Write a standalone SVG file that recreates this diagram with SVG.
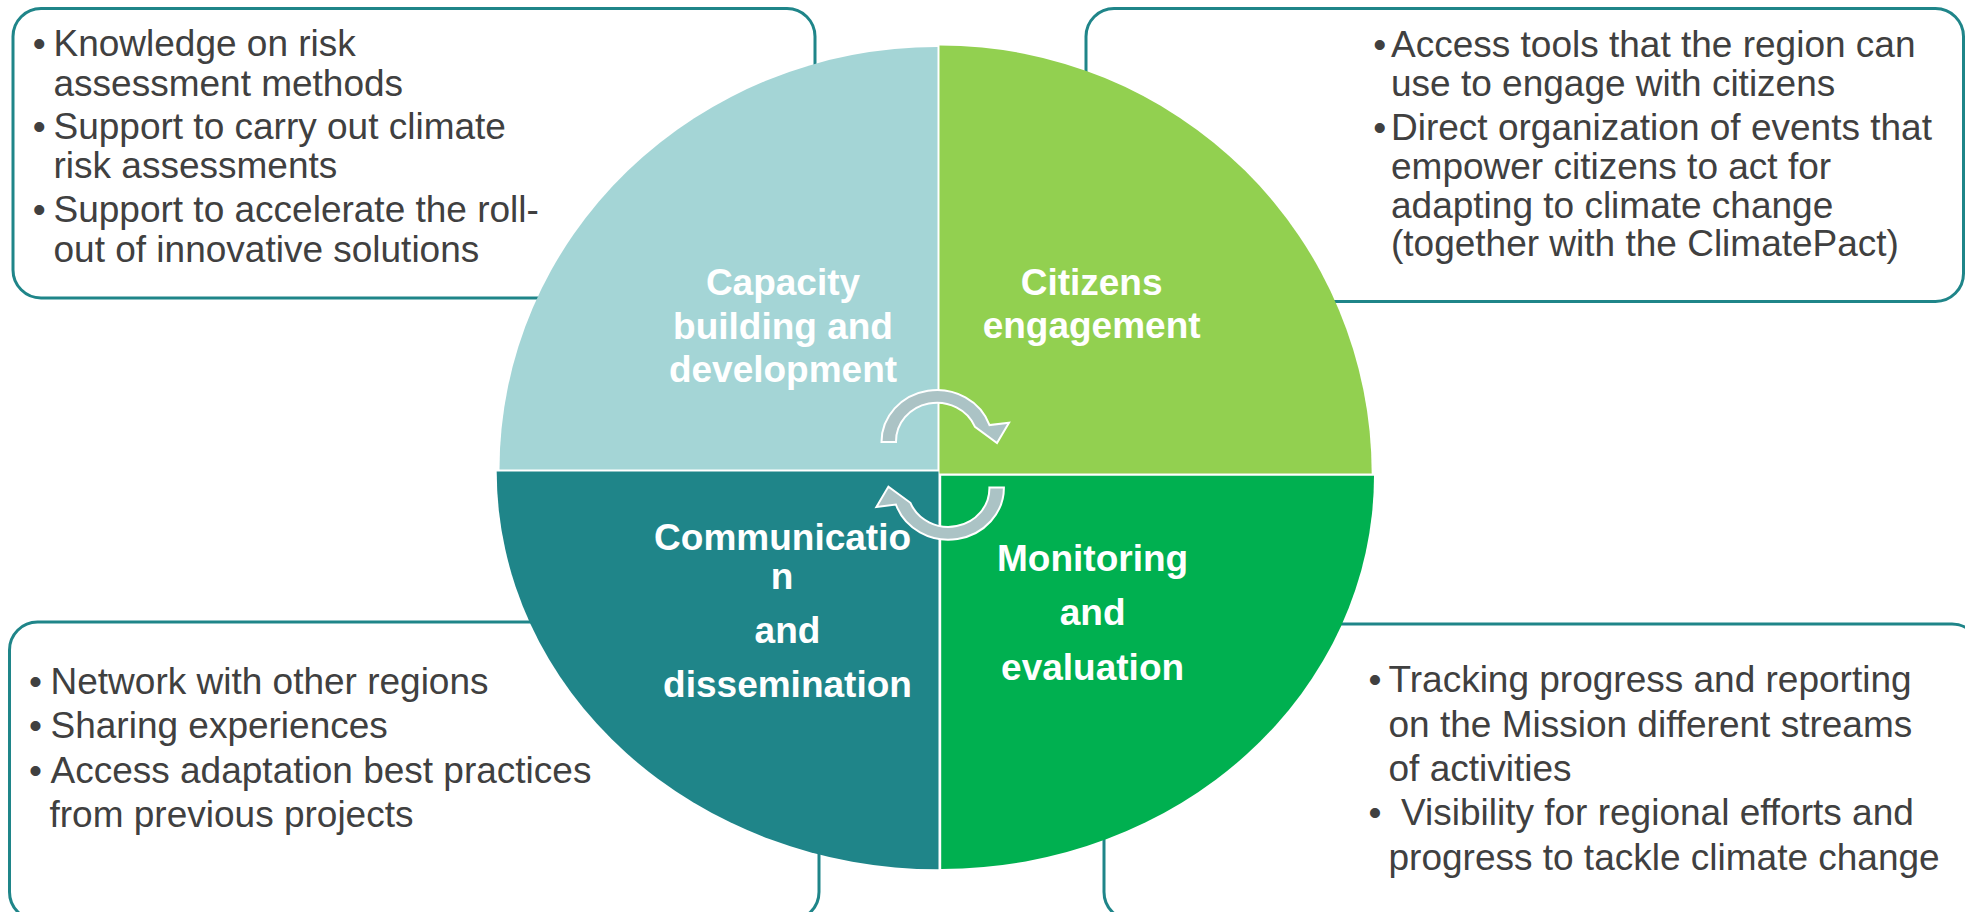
<svg xmlns="http://www.w3.org/2000/svg" width="1965" height="912" viewBox="0 0 1965 912">
  <style>
    .box { fill: #ffffff; stroke: #1F8589; stroke-width: 3; }
    .body { font-family: "Liberation Sans", Arial, sans-serif; font-size: 37px; fill: #404040; }
    .title { font-family: "Liberation Sans", Arial, sans-serif; font-size: 37px; font-weight: bold; fill: #ffffff; text-anchor: middle; }
    .arrow { fill: #ABC3C5; stroke: #ffffff; stroke-width: 2; stroke-linejoin: miter; }
  </style>
  <defs>
    <path id="circArrow" d="M 881.5,442 A 55.5 52 0 0 1 989.5,425.1 L 1009,422.7 L 997,443 L 975,426.8 A 41 38.5 0 0 0 896,442 Z"/>
  </defs>

  <!-- description boxes (behind the circle) -->
  <g id="box-capacity">
    <rect class="box" x="13" y="8.5" width="802" height="289.5" rx="28" ry="28"/>
    <text class="body" x="32.8" y="56">•</text>
    <text class="body" x="53.5" y="56">Knowledge on risk</text>
    <text class="body" x="53.5" y="95.5">assessment methods</text>
    <text class="body" x="32.8" y="139">•</text>
    <text class="body" x="53.5" y="139">Support to carry out climate</text>
    <text class="body" x="53.5" y="178">risk assessments</text>
    <text class="body" x="32.8" y="222">•</text>
    <text class="body" x="53.5" y="222">Support to accelerate the roll-</text>
    <text class="body" x="53.5" y="262">out of innovative solutions</text>
  </g>

  <g id="box-citizens">
    <rect class="box" x="1086" y="8.5" width="877.5" height="293" rx="28" ry="28"/>
    <text class="body" x="1373.3" y="57">•</text>
    <text class="body" x="1391" y="57">Access tools that the region can</text>
    <text class="body" x="1391" y="95.5">use to engage with citizens</text>
    <text class="body" x="1373.3" y="140">•</text>
    <text class="body" x="1391" y="140">Direct organization of events that</text>
    <text class="body" x="1391" y="179">empower citizens to act for</text>
    <text class="body" x="1391" y="217.5">adapting to climate change</text>
    <text class="body" x="1391" y="256">(together with the ClimatePact)</text>
  </g>

  <g id="box-communication">
    <rect class="box" x="9.5" y="622" width="809.5" height="298" rx="28" ry="28"/>
    <text class="body" x="29" y="693.5">•</text>
    <text class="body" x="50.5" y="693.5">Network with other regions</text>
    <text class="body" x="29" y="738">•</text>
    <text class="body" x="50.5" y="738">Sharing experiences</text>
    <text class="body" x="29" y="783">•</text>
    <text class="body" x="50.5" y="783">Access adaptation best practices</text>
    <text class="body" x="49.5" y="827">from previous projects</text>
  </g>

  <g id="box-monitoring">
    <rect class="box" x="1104" y="624" width="876" height="296" rx="28" ry="28"/>
    <text class="body" x="1368.5" y="692">•</text>
    <text class="body" x="1388.5" y="692">Tracking progress and reporting</text>
    <text class="body" x="1388.5" y="736.5">on the Mission different streams</text>
    <text class="body" x="1388.5" y="780.5">of activities</text>
    <text class="body" x="1368.5" y="825">•</text>
    <text class="body" x="1401" y="825">Visibility for regional efforts and</text>
    <text class="body" x="1388.5" y="869.5">progress to tackle climate change</text>
  </g>

  <!-- circle quadrants -->
  <g id="quad-capacity">
    <path d="M 937.5,469.5 L 499.5,469.5 A 438 422.5 0 0 1 937.5,47 Z" fill="#A4D5D6"/>
    <text class="title" x="783" y="295">Capacity</text>
    <text class="title" x="783" y="339">building and</text>
    <text class="title" x="783" y="382">development</text>
  </g>

  <g id="quad-citizens">
    <path d="M 939.5,473.5 L 939.5,45.5 A 432.2 428 0 0 1 1371.7,473.5 Z" fill="#92D050"/>
    <text class="title" x="1091.6" y="295">Citizens</text>
    <text class="title" x="1091.6" y="338">engagement</text>
  </g>

  <g id="quad-communication">
    <path d="M 938.5,471.5 L 938.5,869.3 A 441.8 397.8 0 0 1 496.7,471.5 Z" fill="#1F8589"/>
    <text class="title" x="782.6" y="550">Communicatio</text>
    <text class="title" x="782" y="588.5">n</text>
    <text class="title" x="787.5" y="642.5">and</text>
    <text class="title" x="787.5" y="697">dissemination</text>
  </g>

  <g id="quad-monitoring">
    <path d="M 941.2,475.7 L 1374,475.7 A 432.8 393.3 0 0 1 941.2,869 Z" fill="#00B050"/>
    <text class="title" x="1092.6" y="571">Monitoring</text>
    <text class="title" x="1092.6" y="625">and</text>
    <text class="title" x="1092.6" y="679.5">evaluation</text>
  </g>

  <!-- connectors: circular arrows -->
  <g id="connectors">
    <use href="#circArrow" class="arrow"/>
    <use href="#circArrow" class="arrow" transform="rotate(180 942.7 464.8)"/>
  </g>
</svg>
